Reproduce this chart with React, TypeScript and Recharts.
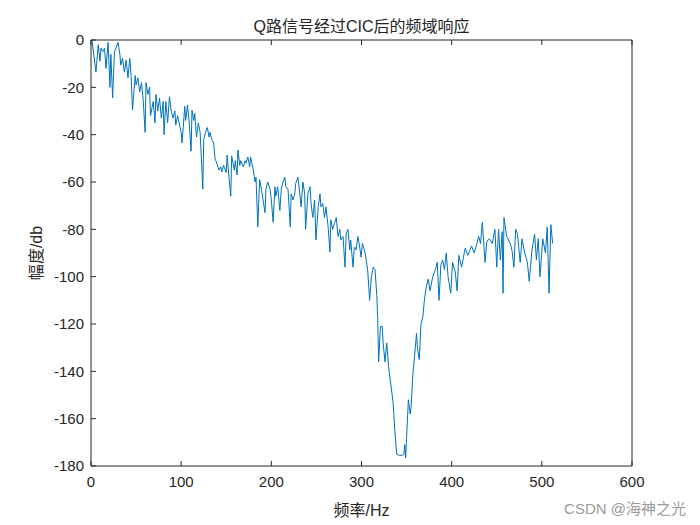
import { LineChart, Line, XAxis, YAxis } from "recharts";

// values (Hz, dB)
const freqHz = [
  1, 5.5, 8, 10, 11, 13, 15, 16.6, 19, 21,
  22, 24, 26, 30, 32, 33, 35, 37, 39, 41,
  43, 44.5, 46, 49, 50, 52, 54, 56, 58, 60,
  61, 63, 65, 66, 69, 71, 72, 74, 76, 78,
  80, 81, 83, 85, 87, 89, 91, 93, 94, 96,
  100, 101, 104, 105, 107, 109, 111, 112, 114, 115,
  117, 119, 121, 122, 124, 125, 127, 129, 131, 132,
  134, 136, 137.5, 139, 142, 144, 145, 147, 150, 151,
  153, 155, 156, 159, 160, 162, 163, 165, 166, 169,
  171, 172, 174, 176, 177, 180, 182, 183, 185, 187,
  189, 191, 193, 194, 196, 198.5, 200, 202, 204, 205,
  207, 209.5, 211, 213, 215, 216, 218.5, 221, 222, 224,
  226, 227, 229.5, 231, 233, 235, 237, 238, 240.5, 243,
  244, 246, 248, 249.5, 252, 254, 255, 257, 259, 260.6,
  263, 265, 266, 268, 270, 272, 274, 276, 277, 279.5,
  281.7, 283, 285, 287, 288, 290.6, 292, 294, 296, 298,
  299.5, 301, 304, 306, 307, 309, 311, 313, 315, 317,
  318, 319, 321, 323, 324, 326, 328, 330, 332, 334,
  335, 337, 339, 342, 345, 347, 348, 349, 350, 352,
  354, 355, 357, 359, 361, 362, 364, 366, 368, 370,
  372, 374, 376, 379, 382, 384, 386, 388, 390, 392,
  394, 396, 399, 401, 404, 406, 408, 411, 413, 415,
  418, 420, 422, 425, 428, 430, 432, 434, 437, 439,
  442, 445, 448, 450, 452, 454, 456, 457, 458, 461,
  465, 467, 469, 471, 473, 476, 478, 481, 484, 486,
  489, 492, 494, 496, 498, 501, 504, 506, 508, 510, 512,
];

const magDb = [
  0, -13.6, -2, -9, -3.4, -5, -3.4, -12, -1, -20,
  -6, -24.5, -5, -1, -6, -10.6, -7.7, -13.6, -8.5, -16,
  -7.7, -15, -29.6, -15, -19, -16, -22, -18, -26, -39,
  -18, -23, -20, -32, -26, -35, -23, -30, -24.5, -33,
  -26, -40, -26, -35, -24, -30, -33, -30, -36, -32,
  -39, -43.5, -28, -34, -27.5, -35, -47, -29.6, -34, -31,
  -41, -35, -39, -46.5, -63, -42, -39, -37, -41, -39,
  -42, -43.5, -50, -51.5, -55, -53.6, -55.8, -53, -56, -48.6,
  -58, -66, -49, -55, -51, -57, -46.5, -53, -51, -53.6,
  -51, -52, -49.4, -53.6, -49.4, -55, -60, -58, -79, -59,
  -63, -68, -73, -63, -60, -63, -67.6, -77, -62, -66,
  -62, -72, -63, -60, -58, -62, -63, -79, -65, -67.6,
  -65, -60.6, -58, -63, -70.5, -60, -65, -80, -65, -62,
  -69, -75, -67.6, -84.5, -70.5, -65, -70.5, -69, -75, -70.5,
  -79, -89.6, -76, -80, -77.5, -75, -83, -80, -84.5, -83,
  -96, -81.6, -80, -88.7, -84.5, -96, -87.5, -88.7, -83, -87.5,
  -91.7, -86, -90, -95, -98, -110, -100, -96, -97, -108,
  -118, -136, -121, -121, -128, -136, -128, -138, -144, -150,
  -153, -165, -175, -175.5, -175.5, -175, -171, -176.6, -168, -152,
  -158, -155, -141, -133, -124, -130, -135, -120, -117, -109,
  -104, -101, -106, -100, -97, -94, -110, -95, -93, -97,
  -90, -100, -107, -94, -98, -106, -91, -96, -92, -88,
  -91, -89, -87, -90, -86, -83, -86, -77, -94, -85,
  -84, -86, -80, -96, -80, -93, -81, -107, -75, -83,
  -86, -89, -96, -80, -82, -94, -84, -90, -94, -102,
  -89, -82, -93, -84, -100, -84, -90, -79, -107, -78, -86,
];

const xTicks = [0, 100, 200, 300, 400, 500, 600];
const yTicks = [-180, -160, -140, -120, -100, -80, -60, -40, -20, 0];

const data = freqHz.map((f, i) => ({ f, db: magDb[i] }));

const FONT = "'Liberation Sans', Arial, 'Noto Sans CJK SC', sans-serif";
const AXIS = "#262626";
const tickStyle = { fill: AXIS, fontSize: 15, fontFamily: FONT };
const blank = () => "";

export default function App() {
  return (
    <div style={{ position: "absolute", left: 0, top: 0, width: 700, height: 525, background: "#fff", fontFamily: FONT }}>
      <div style={{ position: "absolute", left: 91, width: 541, top: 13, textAlign: "center", fontSize: 16, color: "#262626" }}>
        Q路信号经过CIC后的频域响应
      </div>
      <div style={{ position: "absolute", left: 91, width: 541, top: 497, textAlign: "center", fontSize: 16, color: "#262626" }}>
        频率/Hz
      </div>
      <div
        style={{
          position: "absolute",
          left: 35,
          top: 253,
          transform: "translate(-50%, -50%) rotate(-90deg)",
          fontSize: 16,
          color: "#262626",
          whiteSpace: "nowrap",
        }}
      >
        幅度/db
      </div>
      <div style={{ position: "absolute", right: 14, top: 497, fontSize: 15, color: "#9a9a9a" }}>
        CSDN @海神之光
      </div>
      <LineChart width={700} height={525} data={data} margin={{ top: 39, right: 67, bottom: 29, left: 31 }}>
        <XAxis
          dataKey="f"
          type="number"
          domain={[0, 600]}
          ticks={xTicks}
          height={30}
          tickSize={-5}
          tickMargin={15}
          stroke={AXIS}
          tick={tickStyle}
          interval={0}
        />
        <XAxis
          xAxisId="top"
          orientation="top"
          dataKey="f"
          type="number"
          domain={[0, 600]}
          ticks={xTicks}
          height={1}
          tickSize={-5}
          tickFormatter={blank}
          stroke={AXIS}
          interval={0}
        />
        <YAxis
          type="number"
          domain={[-180, 0]}
          ticks={yTicks}
          width={60}
          tickSize={-5}
          tickMargin={12}
          stroke={AXIS}
          tick={tickStyle}
          interval={0}
        />
        <YAxis
          yAxisId="right"
          orientation="right"
          type="number"
          domain={[-180, 0]}
          ticks={yTicks}
          width={1}
          tickSize={-5}
          tickFormatter={blank}
          stroke={AXIS}
          interval={0}
        />
        <Line
          type="linear"
          dataKey="db"
          stroke="#0072BD"
          strokeWidth={1}
          dot={false}
          isAnimationActive={false}
        />
      </LineChart>
    </div>
  );
}
